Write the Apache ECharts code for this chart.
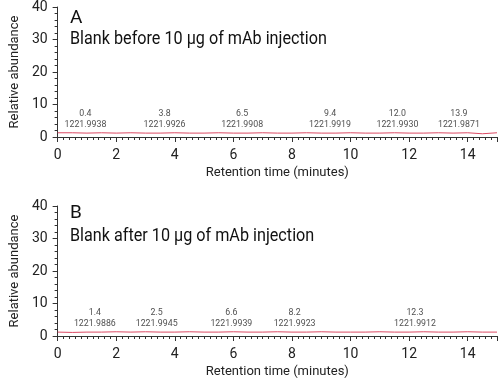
<!DOCTYPE html>
<html><head><meta charset="utf-8">
<script src="https://cdn.jsdelivr.net/npm/echarts@6/dist/echarts.min.js"></script>
<style>html,body{margin:0;padding:0;background:#fff}#c{width:500px;height:381px}</style>
</head><body><div id="c"></div>
<script>
var times = [0,0.5,1,1.5,2,2.5,3,3.5,4,4.5,5,5.5,6,6.5,7,7.5,8,8.5,9,9.5,10,10.5,11,11.5,12,12.5,13,13.5,14,14.5,15];
var abundA = [1.3,1.3,1.2,1.3,1.2,1.3,1.2,1.2,1.3,1.2,1.2,1.3,1.2,1.2,1.3,1.2,1.2,1.3,1.2,1.2,1.3,1.2,1.2,1.3,1.2,1.2,1.3,1.2,1.3,1.0,1.3];
var abundB = [1.2,1.1,1.2,1.2,1.3,1.2,1.3,1.2,1.2,1.3,1.2,1.2,1.3,1.2,1.2,1.3,1.2,1.2,1.3,1.2,1.2,1.2,1.3,1.2,1.2,1.3,1.2,1.2,1.3,1.2,1.2];
var peakRtA = ['0.4','3.8','6.5','9.4','12.0','13.9'];
var peakMzA = ['1221.9938','1221.9926','1221.9908','1221.9919','1221.9930','1221.9871'];
var labelXA = [0.95,3.65,6.3,9.3,11.6,13.7];
var peakRtB = ['1.4','2.5','6.6','8.2','12.3'];
var peakMzB = ['1221.9886','1221.9945','1221.9939','1221.9923','1221.9912'];
var labelXB = [1.27,3.38,5.93,8.09,12.2];
var labelY = 2.2;
var panelLetters = ['A','B'];
var panelTitles = ['Blank before 10 µg of mAb injection','Blank after 10 µg of mAb injection'];
var xTicks = [0,2,4,6,8,10,12,14];
var yTicks = [0,10,20,30,40];

var FONT = 'Roboto, sans-serif';
var chart = echarts.init(document.getElementById('c'), null, {renderer:'canvas'});
function mkX(i){
  return {gridIndex:i,type:'value',min:0,max:15,interval:2,
    name:'Retention time (minutes)',nameLocation:'middle',nameGap:29,
    nameTextStyle:{fontFamily:FONT,fontSize:13,color:'#222'},
    axisLine:{lineStyle:{color:'#333',width:1}},
    axisTick:{show:true,length:5,lineStyle:{color:'#333'}},
    minorTick:{show:true,splitNumber:10,length:3,lineStyle:{color:'#333'}},
    splitLine:{show:false},minorSplitLine:{show:false},
    axisLabel:{margin:11,fontFamily:FONT,fontSize:14,color:'#222',
      formatter:function(v){return xTicks.indexOf(v)>=0?String(v):'';}}};
}
function mkY(i){
  return {gridIndex:i,type:'value',min:0,max:40,interval:10,
    name:'Relative abundance',nameLocation:'middle',nameGap:33,
    nameTextStyle:{fontFamily:FONT,fontSize:13,color:'#222'},
    axisLine:{show:true,lineStyle:{color:'#333',width:1}},
    axisTick:{show:true,length:5,lineStyle:{color:'#333'}},
    minorTick:{show:true,splitNumber:5,length:3,lineStyle:{color:'#333'}},
    splitLine:{show:false},
    axisLabel:{margin:10,fontFamily:FONT,fontSize:14,color:'#222',
      formatter:function(v){return yTicks.indexOf(v)>=0?String(v):'';}}};
}
function lineSeries(i, ys){
  return {type:'line',xAxisIndex:i,yAxisIndex:i,showSymbol:false,symbol:'none',
    data:times.map(function(t,k){return [t,ys[k]];}),
    lineStyle:{color:'#dc4a64',width:1},z:3,silent:true};
}
function labelSeries(i, xs, rts, mzs){
  return {type:'scatter',xAxisIndex:i,yAxisIndex:i,symbolSize:0,silent:true,
    data:xs.map(function(x,k){return {value:[x,labelY],rt:rts[k],mz:mzs[k]};}),
    label:{show:true,position:'top',distance:0,fontFamily:FONT,fontSize:8.8,color:'#222',lineHeight:11,
      formatter:function(p){return p.data.rt+'\n'+p.data.mz;}}};
}
var graphics = [];
var tops = [[9,31],[204,228]];
for (var i=0;i<2;i++){
  graphics.push({type:'text',left:70,top:tops[i][0],style:{text:panelLetters[i],font:'19px '+FONT,fill:'#111'}});
  graphics.push({type:'text',left:70,top:tops[i][1],scaleX:0.925,style:{text:panelTitles[i],font:'17.5px '+FONT,fill:'#111'}});
}
chart.setOption({
  animation:false,
  backgroundColor:'#fff',
  grid:[{left:48,top:7,width:449,height:130},{left:48,top:206,width:449,height:130}],
  xAxis:[mkX(0),mkX(1)],
  yAxis:[mkY(0),mkY(1)],
  graphic:graphics,
  series:[lineSeries(0,abundA),lineSeries(1,abundB),
    labelSeries(0,labelXA,peakRtA,peakMzA),labelSeries(1,labelXB,peakRtB,peakMzB)]
});
</script></body></html>
